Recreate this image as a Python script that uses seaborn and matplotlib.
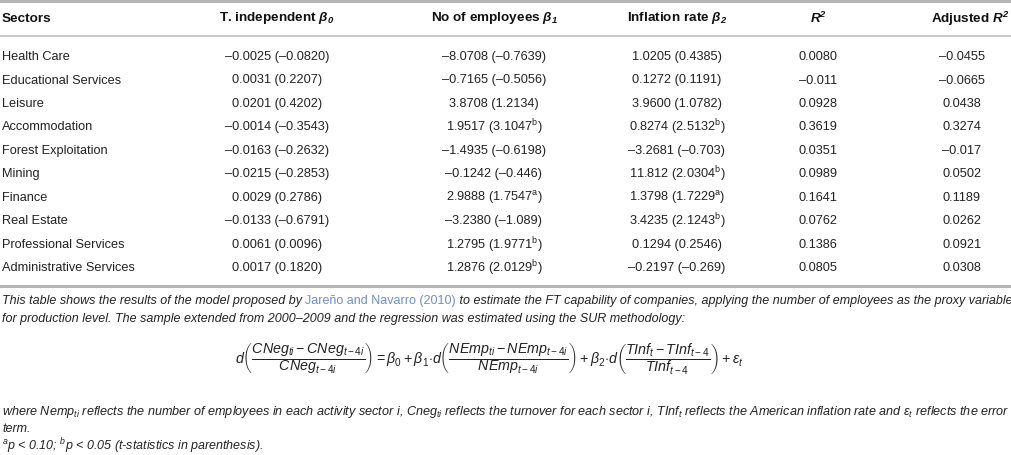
import numpy as np
import pandas as pd
import matplotlib
matplotlib.use("Agg")
import matplotlib.pyplot as plt
import seaborn as sns

# Table data
sectors = ["Health Care", "Educational Services", "Leisure", "Accommodation",
           "Forest Exploitation", "Mining", "Finance", "Real Estate",
           "Professional Services", "Administrative Services"]
beta0 = ["–0.0025 (–0.0820)", "0.0031 (0.2207)", "0.0201 (0.4202)", "–0.0014 (–0.3543)",
         "–0.0163 (–0.2632)", "–0.0215 (–0.2853)", "0.0029 (0.2786)", "–0.0133 (–0.6791)",
         "0.0061 (0.0096)", "0.0017 (0.1820)"]
beta1 = ["–8.0708 (–0.7639)", "–0.7165 (–0.5056)", "3.8708 (1.2134)", r"1.9517 (3.1047$^{\rm b}$)",
         "–1.4935 (–0.6198)", "–0.1242 (–0.446)", r"2.9888 (1.7547$^{\rm a}$)", "–3.2380 (–1.089)",
         r"1.2795 (1.9771$^{\rm b}$)", r"1.2876 (2.0129$^{\rm b}$)"]
beta2 = ["1.0205 (0.4385)", "0.1272 (0.1191)", "3.9600 (1.0782)", r"0.8274 (2.5132$^{\rm b}$)",
         "–3.2681 (–0.703)", r"11.812 (2.0304$^{\rm b}$)", r"1.3798 (1.7229$^{\rm a}$)",
         r"3.4235 (2.1243$^{\rm b}$)", "0.1294 (0.2546)", "–0.2197 (–0.269)"]
r2 = ["0.0080", "–0.011", "0.0928", "0.3619", "0.0351", "0.0989", "0.1641", "0.0762", "0.1386", "0.0805"]
adj_r2 = ["–0.0455", "–0.0665", "0.0438", "0.3274", "–0.017", "0.0502", "0.1189", "0.0262", "0.0921", "0.0308"]

headers = ["Sectors", r"T. independent $\mathbf{\beta_0}$", r"No of employees $\mathbf{\beta_1}$",
           r"Inflation rate $\mathbf{\beta_2}$", r"$\mathbf{R^2}$", r"Adjusted $\mathbf{R^2}$"]

df = pd.DataFrame({"Sectors": sectors, "b0": beta0, "b1": beta1, "b2": beta2, "r2": r2, "adj": adj_r2})

# Notes
note1 = [("This table shows the results of the model proposed by ", "italic", "#222222"),
         ("Jareño and Navarro (2010)", "normal", "#6f8fc4"),
         (" to estimate the FT capability of companies, applying the number of employees as the proxy variable", "italic", "#222222")]
note2 = [("for production level. The sample extended from 2000–2009 and the regression was estimated using the SUR methodology:", "italic", "#222222")]
equation = (r"$d\left(\dfrac{CNeg_{ti}-CNeg_{t-4i}}{CNeg_{t-4i}}\right)=\beta_0+\beta_1{\cdot}d"
            r"\left(\dfrac{NEmp_{ti}-NEmp_{t-4i}}{NEmp_{t-4i}}\right)+\beta_2{\cdot}d"
            r"\left(\dfrac{TInf_t-TInf_{t-4}}{TInf_{t-4}}\right)+\varepsilon_t$")
where1 = (r"where $Nemp_{ti}$ reflects the number of employees in each activity sector $i$, $Cneg_{ti}$ "
          r"reflects the turnover for each sector $i$, $TInf_t$ reflects the American inflation rate "
          r"and $\varepsilon_t$ reflects the error")
where2 = "term."
footnote = r"$^{a}p$ < 0.10; $^{b}p$ < 0.05 (t-statistics in parenthesis)."

sns.set_theme(style="white")
plt.rcParams["font.family"] = ["Liberation Sans", "DejaVu Sans"]
plt.rcParams["mathtext.fontset"] = "custom"
plt.rcParams["mathtext.rm"] = "Liberation Sans"
plt.rcParams["mathtext.it"] = "Liberation Sans:italic"
plt.rcParams["mathtext.bf"] = "Liberation Sans:bold:italic"
plt.rcParams["mathtext.sf"] = "Liberation Sans"

W, H = 1012, 456
fig = plt.figure(figsize=(W / 100, H / 100), dpi=100)
ax = fig.add_axes([0, 0, 1, 1])
ax.set_xlim(0, W)
ax.set_ylim(H, 0)
ax.axis("off")

txt = "#222222"
fs = 9.2
hfs = 9.7

# column anchors
col_x = [2, 277, 494, 677, 818, 962]
col_ha = ["left", "center", "center", "center", "center", "center"]
header_x = [2, 277, 494, 677, 818, 1009]
header_ha = ["left", "center", "center", "center", "center", "right"]

header_y = 18.5
row0_y = 57
row_step = 23.5

# rules
ax.axhline(1.5, color="#b5b5b5", lw=2.2)
ax.axhline(37, color="#c8c8c8", lw=1.5)
ax.axhline(287, color="#b5b5b5", lw=2.2)

for x, ha, h in zip(header_x, header_ha, headers):
    ax.text(x, header_y, h, ha=ha, va="center", fontsize=hfs, fontweight="bold", color="#111111")

cols = ["Sectors", "b0", "b1", "b2", "r2", "adj"]
for i, row in df.iterrows():
    y = row0_y + i * row_step
    for x, ha, c in zip(col_x, col_ha, cols):
        ax.text(x, y, row[c], ha=ha, va="center", fontsize=fs, color=txt)

fig.canvas.draw()
renderer = fig.canvas.get_renderer()


def put_pieces(pieces, x0, y, size):
    arts = []
    x = x0
    for s, style, color in pieces:
        t = ax.text(x, y, s, ha="left", va="center", fontsize=size, fontstyle=style, color=color)
        bb = t.get_window_extent(renderer=renderer)
        x += bb.width
        arts.append(t)
    return arts, x


def fit_pieces(pieces, x0, y, target_right, size):
    arts, xr = put_pieces(pieces, x0, y, size)
    for a in arts:
        a.remove()
    size = size * (target_right - x0) / (xr - x0)
    put_pieces(pieces, x0, y, size)
    return size


note_fs = fit_pieces(note1, 2, 301, 1007, 7.5)
put_pieces(note2, 2, 319, note_fs)

eq = ax.text(489, 359, equation, ha="center", va="center", fontsize=8.0, color=txt)
bb = eq.get_window_extent(renderer=renderer)
eq.set_fontsize(8.0 * 505 / bb.width)

t = ax.text(2, 412, where1, ha="left", va="center", fontsize=7.5, fontstyle="italic", color=txt)
bb = t.get_window_extent(renderer=renderer)
t.set_fontsize(7.5 * (1008 - 2) / bb.width)
ax.text(2, 429, where2, ha="left", va="center", fontsize=note_fs, fontstyle="italic", color=txt)
ax.text(2, 446, footnote, ha="left", va="center", fontsize=note_fs, fontstyle="italic", color=txt)

fig.savefig("out.png", dpi=100)
